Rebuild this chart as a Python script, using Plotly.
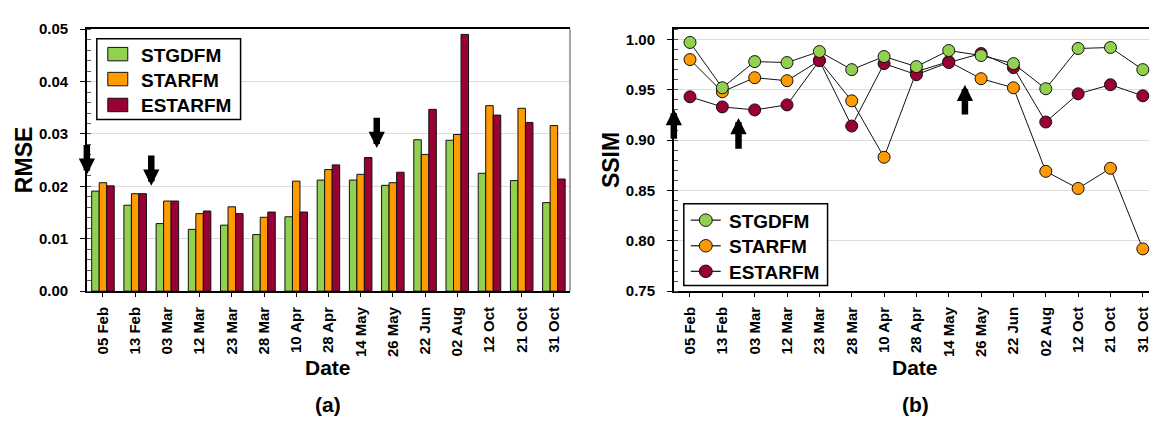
import plotly.graph_objects as go

# Acquisition dates shared by both panels
dates = ['05 Feb', '13 Feb', '03 Mar', '12 Mar', '23 Mar', '28 Mar', '10 Apr', '28 Apr',
         '14 May', '26 May', '22 Jun', '02 Aug', '12 Oct', '21 Oct', '31 Oct']

# Panel (a): RMSE per method
rmse_stgdfm = [0.0191, 0.0164, 0.0129, 0.0118, 0.0126, 0.0108, 0.0142, 0.0212,
               0.0212, 0.0202, 0.0289, 0.0288, 0.0225, 0.0211, 0.0169]
rmse_starfm = [0.0207, 0.0186, 0.0172, 0.0148, 0.0161, 0.0141, 0.0210, 0.0232,
               0.0223, 0.0207, 0.0261, 0.0299, 0.0354, 0.0349, 0.0316]
rmse_estarfm = [0.0201, 0.0186, 0.0172, 0.0153, 0.0148, 0.0151, 0.0151, 0.0241,
                0.0255, 0.0227, 0.0347, 0.0490, 0.0336, 0.0322, 0.0214]

# Panel (b): SSIM per method
ssim_stgdfm = [0.997, 0.952, 0.978, 0.977, 0.988, 0.970, 0.983, 0.973,
               0.989, 0.984, 0.976, 0.951, 0.991, 0.992, 0.970]
ssim_starfm = [0.980, 0.948, 0.962, 0.959, 0.979, 0.939, 0.883, 0.968,
               0.978, 0.961, 0.952, 0.869, 0.852, 0.872, 0.792]
ssim_estarfm = [0.943, 0.933, 0.930, 0.935, 0.979, 0.914, 0.976, 0.965,
                0.977, 0.986, 0.972, 0.918, 0.946, 0.955, 0.944]

methods = ['STGDFM', 'STARFM', 'ESTARFM']

# Arrow markers: (category position, tip value, tail value)
rmse_arrows = [(-0.5, 0.0222, 0.0282), (1.5, 0.0201, 0.0262), (8.5, 0.0273, 0.0334)]
ssim_arrows = [(-0.5, 0.931, 0.900), (1.5, 0.922, 0.890), (8.5, 0.955, 0.924)]

GREEN, ORANGE, RED = '#92D050', '#FF9A00', '#990033'
COLORS = [GREEN, ORANGE, RED]
FONT = 'Liberation Sans, Arial, sans-serif'
W, H = 1151, 423

fig = go.Figure()
xidx = list(range(len(dates)))

for name, vals, col in zip(methods, [rmse_stgdfm, rmse_starfm, rmse_estarfm], COLORS):
    fig.add_trace(go.Bar(x=xidx, y=vals, name=name, showlegend=False,
                         marker=dict(color=col, line=dict(color='#111111', width=1)),
                         xaxis='x', yaxis='y'))

# STARFM first, then ESTARFM, so STGDFM markers sit on top
for name, vals, col in [('STARFM', ssim_starfm, ORANGE),
                        ('ESTARFM', ssim_estarfm, RED),
                        ('STGDFM', ssim_stgdfm, GREEN)]:
    fig.add_trace(go.Scatter(x=xidx, y=vals, name=name, showlegend=False,
                             mode='lines+markers',
                             line=dict(color='#111111', width=1),
                             marker=dict(color=col, size=12, line=dict(color='#111111', width=1)),
                             cliponaxis=False, xaxis='x2', yaxis='y2'))

# Plot-area placement in pixels
L1, R1, L2, R2, TOP, BOT = 87, 571, 675, 1151, 21, 294
ydom = [1 - BOT / H, 1 - TOP / H]
step2 = 32.4
x2max = -0.5 + (R2 - L2) / step2

tickfont = dict(family=FONT, size=15, color='black', weight='bold')
common_x = dict(tickmode='array', tickvals=xidx, ticktext=dates, tickangle=-90,
                ticks='outside', ticklen=4, tickcolor='black', tickfont=tickfont,
                showline=True, linecolor='black', linewidth=1.5, showgrid=False,
                zeroline=False, ticklabelstandoff=4, ticklabeloverflow='allow')
common_y = dict(tickformat='.2f', ticks='outside', ticklen=5, tickcolor='black',
                tickfont=tickfont, showline=True, linecolor='black', linewidth=1.5,
                gridcolor='#dcdcdc', gridwidth=1, zeroline=False, ticklabelstandoff=9)

fig.update_layout(
    width=W, height=H, autosize=False,
    margin=dict(l=0, r=0, t=0, b=0),
    paper_bgcolor='white', plot_bgcolor='white',
    barmode='group', bargap=0.30, bargroupgap=0,
    showlegend=False,
    xaxis=dict(domain=[L1 / W, R1 / W], range=[-0.5, 14.5], mirror=True, **common_x),
    yaxis=dict(domain=ydom, range=[0, 0.05], dtick=0.01,
               minor=dict(ticks='inside', ticklen=4, tickcolor='#555555',
                          dtick=0.002, showgrid=False), **common_y),
    xaxis2=dict(domain=[L2 / W, 1.0], range=[-0.5, x2max], mirror=True, anchor='y2', **common_x),
    yaxis2=dict(domain=ydom, range=[0.75, 1.0102], dtick=0.05, anchor='x2',
                minor=dict(ticks='inside', ticklen=4, tickcolor='#555555',
                           dtick=0.01, showgrid=False), **common_y),
)


def px(x):
    return x / W


def py(y):
    return 1 - y / H


# Grey right border of panel (a)
fig.add_shape(type='line', xref='paper', yref='paper', x0=px(R1), x1=px(R1),
              y0=ydom[0], y1=ydom[1], line=dict(color='#888888', width=1.5))

legfont = dict(family=FONT, size=19, color='black', weight='bold')

# Legend of panel (a): colour swatches
fig.add_shape(type='rect', xref='paper', yref='paper', x0=px(97), x1=px(241),
              y0=py(115), y1=py(31), line=dict(color='black', width=1.5), fillcolor='white')
for name, col, yc in zip(methods, COLORS, [47, 73, 100]):
    fig.add_shape(type='rect', xref='paper', yref='paper', x0=px(108), x1=px(128),
                  y0=py(yc + 7), y1=py(yc - 7), fillcolor=col,
                  line=dict(color='#111111', width=1))
    fig.add_annotation(text=name, xref='paper', yref='paper', x=px(139), y=py(yc + 1),
                       xanchor='left', yanchor='middle', showarrow=False, font=legfont)

# Legend of panel (b): line with circle markers
fig.add_shape(type='rect', xref='paper', yref='paper', x0=px(685), x1=px(829),
              y0=py(288), y1=py(203), line=dict(color='black', width=1.5), fillcolor='white')
for name, col, yc in zip(methods, COLORS, [220, 246.7, 273.3]):
    fig.add_shape(type='line', xref='paper', yref='paper', x0=px(692), x1=px(722),
                  y0=py(yc), y1=py(yc), line=dict(color='#111111', width=1.2))
    fig.add_shape(type='circle', xref='paper', yref='paper', x0=px(700.5), x1=px(713.5),
                  y0=py(yc + 6.5), y1=py(yc - 6.5), fillcolor=col,
                  line=dict(color='#111111', width=1))
    fig.add_annotation(text=name, xref='paper', yref='paper', x=px(728), y=py(yc + 1),
                       xanchor='left', yanchor='middle', showarrow=False, font=legfont)

titlefont = dict(family=FONT, size=23, color='black', weight='bold')
ann = [
    dict(text='RMSE', x=px(24), y=py(157.5), textangle=-90),
    dict(text='SSIM', x=px(612), y=py(157.5), textangle=-90),
    dict(text='Date', x=px(329), y=py(374)),
    dict(text='Date', x=px(917), y=py(374)),
    dict(text='(a)', x=px(329), y=py(412)),
    dict(text='(b)', x=px(917), y=py(412)),
]
for a in ann:
    size = 21 if a['text'] in ('Date', '(a)', '(b)') else 23
    fig.add_annotation(xref='paper', yref='paper', showarrow=False,
                       xanchor='center', yanchor='middle',
                       font={**titlefont, 'size': size}, **a)

# Bold black arrows marking selected dates
for xa, ya, arrows in [('x', 'y', rmse_arrows), ('x2', 'y2', ssim_arrows)]:
    for xp, tip, tail in arrows:
        fig.add_annotation(x=xp, y=tip, ax=xp, ay=tail, xref=xa, yref=ya,
                           axref=xa, ayref=ya, text='', showarrow=True,
                           arrowhead=2, arrowsize=0.5, arrowwidth=6.5,
                           arrowcolor='black', standoff=0)

fig.write_html('out.html')
